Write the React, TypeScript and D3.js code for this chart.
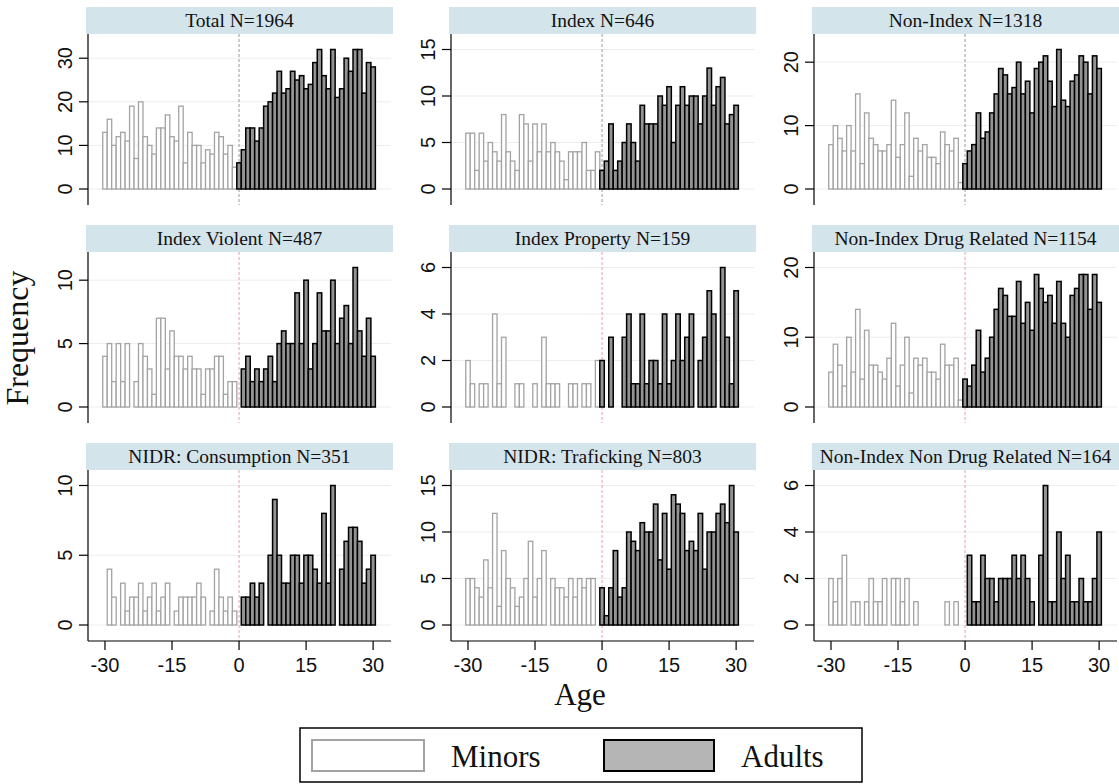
import React from "react";
import * as d3 from "d3";

// ---------- data ----------
const panelTitles = [
  "Total N=1964",
  "Index N=646",
  "Non-Index N=1318",
  "Index Violent N=487",
  "Index Property N=159",
  "Non-Index Drug Related N=1154",
  "NIDR: Consumption N=351",
  "NIDR: Traficking N=803",
  "Non-Index Non Drug Related N=164",
];

// ages -30..-1 (minors) and 0..30 (adults)
const minorAges = d3.range(-30, 0);
const adultAges = d3.range(0, 31);

const minorsTotal = [13,16,10,12,13,11,19,7,20,12,10,8,14,14,17,12,11,19,6,13,10,10,6,9,8,13,12,8,10,5];
const adultsTotal = [6,9,14,14,11,14,19,20,22,27,22,23,27,25,26,23,24,29,32,26,23,32,21,23,30,27,32,32,22,29,28];

const minorsIndex = [6,6,2,6,3,5,4,3,8,4,3,2,8,7,3,7,4,7,4,5,4,3,1,4,4,4,5,2,2,4];
const adultsIndex = [2,3,7,2,3,5,7,5,3,9,7,7,7,10,9,11,5,9,11,9,10,10,7,10,13,9,11,12,7,8,9];

const minorsNonIndex = [7,10,8,6,10,6,15,4,12,8,7,6,6,7,14,5,7,12,2,8,6,7,5,5,4,9,7,6,8,1];
const adultsNonIndex = [4,6,7,12,8,9,12,15,19,18,15,16,20,15,17,12,19,20,21,17,13,22,14,13,17,18,21,20,15,21,19];

const minorsViolent = [4,5,2,5,2,5,0,2,5,4,3,1,7,7,3,6,4,4,3,4,3,3,1,3,3,4,4,1,2,2];
const adultsViolent = [0,3,4,2,3,2,3,4,2,5,6,5,5,9,5,10,3,5,9,6,6,10,5,7,8,5,11,6,4,7,4];

const minorsProperty = [2,1,0,1,1,0,4,1,3,0,0,1,1,0,0,1,0,3,1,1,1,0,0,1,1,0,1,1,0,2];
const adultsProperty = [2,0,3,0,0,3,4,1,1,4,1,2,2,1,4,1,2,4,2,3,4,0,2,3,5,4,0,6,3,1,5];

const minorsDrug = [5,9,6,3,10,5,14,4,11,6,6,5,4,7,12,3,6,10,2,7,6,7,5,5,4,9,6,6,7,1];
const adultsDrug = [4,3,6,11,5,7,10,14,17,16,13,13,18,12,15,11,19,17,15,16,12,18,12,10,16,17,19,19,14,19,15];

const minorsConsumption = [0,4,2,0,3,1,2,2,3,1,2,3,1,2,3,0,1,2,2,2,2,3,2,0,1,4,2,1,2,1];
const adultsConsumption = [0,2,2,3,2,3,0,5,9,5,3,3,5,5,3,5,5,4,3,8,3,10,0,4,6,7,7,6,3,4,5];

const minorsTrafficking = [5,5,4,3,7,4,12,2,8,5,4,2,3,5,9,3,5,8,0,5,4,4,3,5,3,5,4,5,5,0];
const adultsTrafficking = [4,1,4,8,3,4,10,9,8,11,10,10,13,7,12,6,14,13,12,8,9,8,12,6,10,10,12,13,11,15,10];

const minorsNonDrug = [2,1,2,3,0,1,1,0,1,2,1,1,2,0,2,2,1,2,0,1,0,0,0,0,0,0,1,0,1,0];
const adultsNonDrug = [0,3,1,1,3,2,2,1,2,2,2,3,2,3,2,1,0,3,6,1,1,4,2,3,1,1,2,1,1,2,4];

const panelMinors = [minorsTotal, minorsIndex, minorsNonIndex, minorsViolent, minorsProperty, minorsDrug, minorsConsumption, minorsTrafficking, minorsNonDrug];
const panelAdults = [adultsTotal, adultsIndex, adultsNonIndex, adultsViolent, adultsProperty, adultsDrug, adultsConsumption, adultsTrafficking, adultsNonDrug];

const panelYTicks = [
  [0, 10, 20, 30],
  [0, 5, 10, 15],
  [0, 10, 20],
  [0, 5, 10],
  [0, 2, 4, 6],
  [0, 10, 20],
  [0, 5, 10],
  [0, 5, 10, 15],
  [0, 2, 4, 6],
];

const xTicks = [-30, -15, 0, 15, 30];
const legendLabels = ["Minors", "Adults"];
const xTitle = "Age";
const yTitle = "Frequency";

// ---------- layout ----------
const W = 1119;
const H = 784;
const colX = [88, 451, 814];
const plotW = 303;
const stripTops = [7, 225, 443];
const stripH = 27;
const plotH = 171;
const serif = "'Liberation Serif', 'Times New Roman', serif";
const sans = "'Liberation Sans', Arial, sans-serif";

const minorStroke = "#a3a3a3";
const adultFill = "#939393";
const stripFill = "#d4e4eb";

function Panel({ idx }: { idx: number }) {
  const col = idx % 3;
  const row = Math.floor(idx / 3);
  const left = colX[col];
  const stripTop = stripTops[row];
  const top = stripTop + stripH;
  const bottom = top + plotH;
  const minors = panelMinors[idx];
  const adults = panelAdults[idx];
  const ticks = panelYTicks[idx];
  const dataMax = Math.max(d3.max(minors) as number, d3.max(adults) as number);
  const yMax = Math.max(dataMax, ticks[ticks.length - 1]);

  const x = d3.scaleLinear().domain([-33.8, 34.0]).range([left, left + plotW]);
  const y = d3.scaleLinear().domain([0, yMax]).range([top + 155, top + 15.5]);
  const bw = x(1) - x(0);
  const lineColor = row === 0 ? "#9a9a9a" : "#e2a3b3";

  return (
    <g>
      {/* strip */}
      <rect x={left - 2} y={stripTop} width={plotW + 4} height={stripH} fill={stripFill} />
      <text
        x={left + plotW / 2}
        y={stripTop + 20}
        textAnchor="middle"
        fontFamily={serif}
        fontSize={19.5}
        fill="#111"
      >
        {panelTitles[idx]}
      </text>
      {/* gridlines */}
      {ticks.map((t) => (
        <line key={"g" + t} x1={left} x2={left + plotW} y1={y(t)} y2={y(t)} stroke="#ededed" strokeWidth={1} />
      ))}
      {/* x = 0 dashed line */}
      <line x1={x(0)} x2={x(0)} y1={top} y2={bottom} stroke={lineColor} strokeWidth={1} strokeDasharray="3,2" />
      {/* minors bars */}
      {minors.map((v, i) =>
        v > 0 ? (
          <rect
            key={"m" + i}
            x={x(minorAges[i] - 0.5)}
            y={y(v)}
            width={bw}
            height={y(0) - y(v)}
            fill="white"
            stroke={minorStroke}
            strokeWidth={1.3}
          />
        ) : null
      )}
      {/* adult bars */}
      {adults.map((v, i) =>
        v > 0 ? (
          <rect
            key={"a" + i}
            x={x(adultAges[i] - 0.5)}
            y={y(v)}
            width={bw}
            height={y(0) - y(v)}
            fill={adultFill}
            stroke="#000"
            strokeWidth={1.5}
          />
        ) : null
      )}
      {/* y axis */}
      <line x1={left} x2={left} y1={top} y2={bottom} stroke="#000" strokeWidth={1.2} />
      {ticks.map((t) => (
        <g key={"t" + t}>
          <line x1={left - 9} x2={left} y1={y(t)} y2={y(t)} stroke="#000" strokeWidth={1.2} />
          <text
            transform={`translate(${left - 16},${y(t)}) rotate(-90)`}
            textAnchor="middle"
            fontFamily={sans}
            fontSize={20}
            fill="#111"
          >
            {t}
          </text>
        </g>
      ))}
      {/* x axis only on bottom row */}
      {row === 2 && (
        <g>
          <line x1={left} x2={left + plotW} y1={bottom} y2={bottom} stroke="#000" strokeWidth={1.2} />
          {xTicks.map((t) => (
            <g key={"x" + t}>
              <line x1={x(t)} x2={x(t)} y1={bottom} y2={bottom + 9} stroke="#000" strokeWidth={1.2} />
              <text x={x(t)} y={bottom + 31} textAnchor="middle" fontFamily={sans} fontSize={20} fill="#111">
                {t}
              </text>
            </g>
          ))}
        </g>
      )}
    </g>
  );
}

export default function App() {
  const legendX = 300;
  const legendY = 728;
  return (
    <svg
      width={W}
      height={H}
      viewBox={`0 0 ${W} ${H}`}
      style={{ position: "absolute", left: 0, top: 0, background: "white" }}
    >
      <rect x={0} y={0} width={W} height={H} fill="white" />
      {panelTitles.map((_, i) => (
        <Panel key={i} idx={i} />
      ))}
      {/* axis titles */}
      <text
        transform={`translate(28,338) rotate(-90)`}
        textAnchor="middle"
        fontFamily={serif}
        fontSize={32}
        fill="#111"
      >
        {yTitle}
      </text>
      <text x={580} y={705} textAnchor="middle" fontFamily={serif} fontSize={31} fill="#111">
        {xTitle}
      </text>
      {/* legend */}
      <rect x={legendX} y={legendY} width={562} height={54} fill="white" stroke="#000" strokeWidth={1.5} />
      <rect x={312} y={740} width={112} height={31} fill="white" stroke={minorStroke} strokeWidth={2} />
      <text x={451} y={767} fontFamily={serif} fontSize={31} fill="#111">
        {legendLabels[0]}
      </text>
      <rect x={604} y={740} width={110} height={31} fill="#b5b5b5" stroke="#000" strokeWidth={2} />
      <text x={741} y={767} fontFamily={serif} fontSize={31} fill="#111">
        {legendLabels[1]}
      </text>
    </svg>
  );
}
